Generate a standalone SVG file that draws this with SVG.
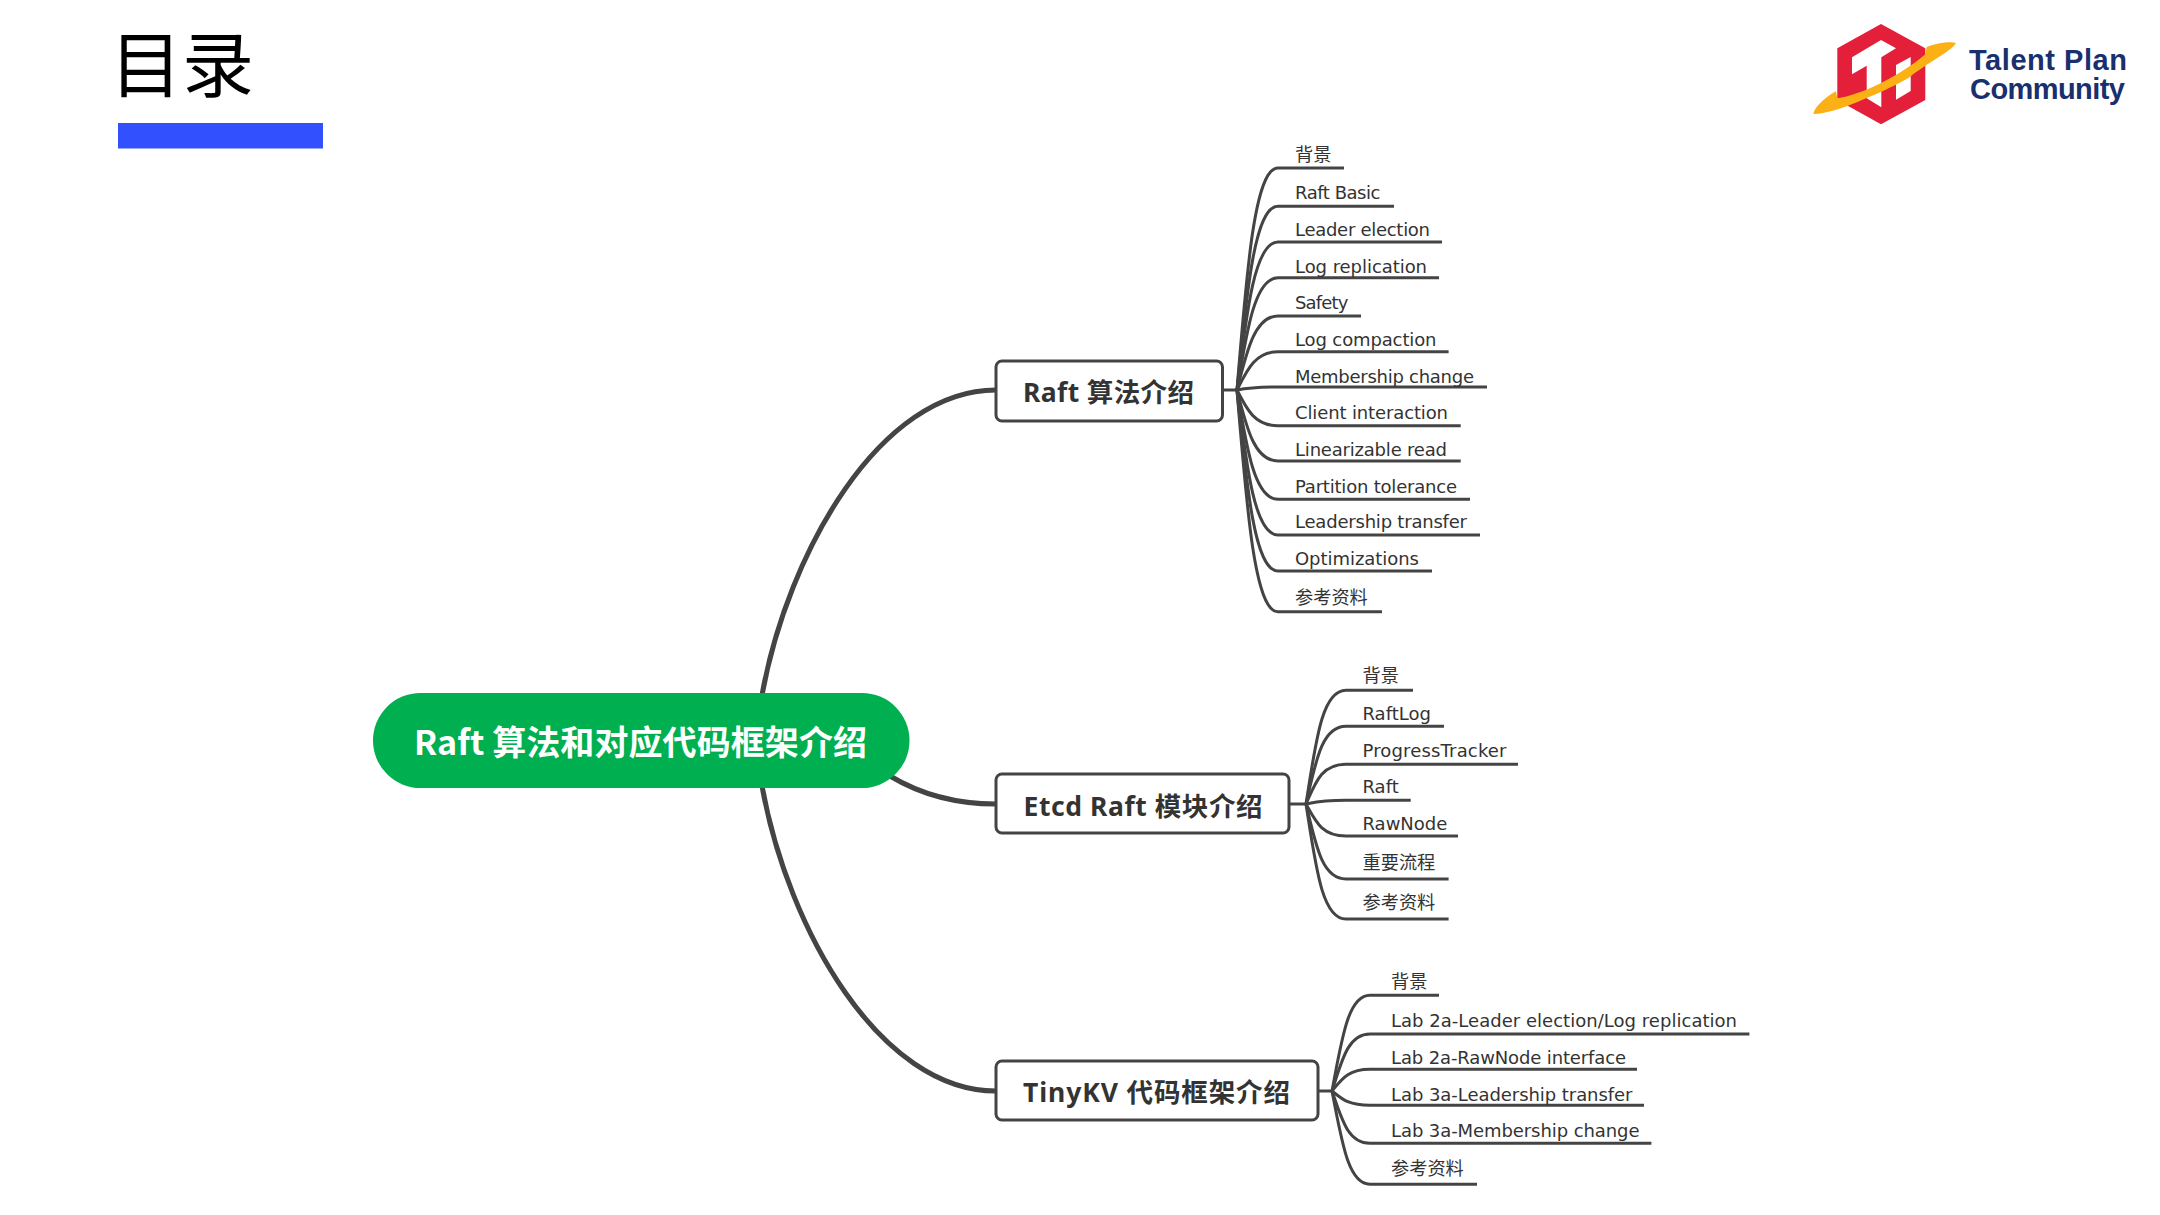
<svg xmlns="http://www.w3.org/2000/svg" width="2160" height="1215" viewBox="0 0 2160 1215">
<style>
.main{fill:none;stroke:#444;stroke-width:5;stroke-linecap:round}
.fan{fill:none;stroke:#444;stroke-width:3}
.leaf{font-family:"DejaVu Sans","Noto Sans CJK SC",sans-serif;font-size:18px;fill:#333}
.cjk{font-family:"Noto Sans CJK SC",sans-serif;font-size:18.200px;fill:#333}
.topic rect{fill:#fff;stroke:#444;stroke-width:3}
.topic text{font-family:"Noto Sans","Noto Sans CJK SC",sans-serif;font-weight:700;font-size:26.500px;fill:#333}
.brand{font-family:"Liberation Sans",sans-serif;font-weight:700;font-size:29px;fill:#1a2f6e}
</style>
<rect width="2160" height="1215" fill="#fff"/>
<g id="title">
<text x="110" y="91" style="font-family:'Noto Sans CJK SC',sans-serif;font-size:72px;fill:#000">目录</text>
<rect x="118" y="123" width="205" height="25.500" fill="#3350ff"/>
</g>
<g id="logo">
<path d="M1881 24L1925.300 48.300V100L1881 124.300L1837.300 100V48.300Z" fill="#e31f39"/>
<path d="M1852 57.300L1881 40L1896 48.300L1881.300 57.300V107.300L1866.700 98.300V65.700L1852 74.300Z" fill="#fff"/>
<path d="M1896 65L1910.700 57V91L1896 99.700Z" fill="#fff"/>
<path transform="translate(1810 15) scale(.3333)" d="M10 296C15 272 50 245 78 228L82 250C150 240 260 190 346 118L350 96C380 84 425 78 438 85C425 108 350 145 300 186C240 222 150 258 110 274C70 288 25 300 10 296Z" fill="#fbb116"/>
<text class="brand" x="1969" y="70" textLength="158">Talent Plan</text>
<text class="brand" x="1970" y="99" textLength="155">Community</text>
</g>
<g id="connectors">
<path class="main" d="M762 695C788 552 880 390 996 390"/>
<path class="main" d="M890 776C925 797 960 804 996 804"/>
<path class="main" d="M762 786C788 930 880 1091 996 1091"/>
<g class="fan">
<path d="M1223 390H1237"/>
<path d="M1237 390C1247 266 1255 168 1278 168H1344"/>
<path d="M1237 390C1247 288 1255 206.300 1278 206.300H1394"/>
<path d="M1237 390C1247 308 1255 242 1278 242H1442"/>
<path d="M1237 390C1247 329 1255 277.700 1278 277.700H1439"/>
<path d="M1237 390C1247 350 1255 316 1278 316H1361"/>
<path d="M1237 390C1247 370 1255 351.700 1278 351.700H1448.600"/>
<path d="M1237 390C1247 388 1255 387 1278 387H1487"/>
<path d="M1237 390C1247 410 1255 425.700 1278 425.700H1460.700"/>
<path d="M1237 390C1247 430 1255 461 1278 461H1460.700"/>
<path d="M1237 390C1247 451 1255 499.300 1278 499.300H1470"/>
<path d="M1237 390C1247 471 1255 535 1278 535H1480"/>
<path d="M1237 390C1247 491 1255 571 1278 571H1432"/>
<path d="M1237 390C1247 513 1255 611.700 1278 611.700H1382"/>
<path d="M1289 804H1306"/>
<path d="M1306 804C1316 740 1322 690.300 1346 690.300H1413"/>
<path d="M1306 804C1316 760 1322 726.300 1346 726.300H1444"/>
<path d="M1306 804C1316 781 1322 764.300 1346 764.300H1518"/>
<path d="M1306 804C1316 802 1322 800.300 1346 800.300H1410.700"/>
<path d="M1306 804C1316 822 1322 836 1346 836H1458"/>
<path d="M1306 804C1316 846 1322 879 1346 879H1448.600"/>
<path d="M1306 804C1316 868 1322 919 1346 919H1448.600"/>
<path d="M1318 1091H1332"/>
<path d="M1332 1091C1342 1038 1348 995.300 1370 995.300H1439"/>
<path d="M1332 1091C1342 1060 1348 1034 1370 1034H1749.400"/>
<path d="M1332 1091C1342 1079 1348 1069.300 1370 1069.300H1637"/>
<path d="M1332 1091C1342 1099 1348 1105.300 1370 1105.300H1644"/>
<path d="M1332 1091C1342 1120 1348 1143.300 1370 1143.300H1651.400"/>
<path d="M1332 1091C1342 1142 1348 1184.300 1370 1184.300H1477"/>
</g>
</g>
<g id="center">
<rect x="373" y="693" width="536.500" height="95" rx="47.500" fill="#00b050"/>
<text x="414" y="755" textLength="453" style="font-family:'Noto Sans CJK SC',sans-serif;font-weight:700;font-size:34px;fill:#fff">Raft 算法和对应代码框架介绍</text>
</g>
<g id="topic-raft" class="topic"><rect x="996" y="361" width="226.500" height="60" rx="6"/><text x="1023" y="402" textLength="171">Raft 算法介绍</text></g>
<g id="topic-etcd" class="topic"><rect x="996" y="774" width="293" height="59" rx="6"/><text x="1023.500" y="816" textLength="239">Etcd Raft 模块介绍</text></g>
<g id="topic-tinykv" class="topic"><rect x="996" y="1061" width="322" height="59" rx="6"/><text x="1023" y="1101.500" textLength="267">TinyKV 代码框架介绍</text></g>
<g id="raft-leaves">
<g id="r1"><text class="cjk" x="1295" y="161">背景</text></g>
<g id="r2"><text class="leaf" x="1295" y="199.300" textLength="85.500">Raft Basic</text></g>
<g id="r3"><text class="leaf" x="1295" y="236" textLength="135">Leader election</text></g>
<g id="r4"><text class="leaf" x="1295" y="273.300" textLength="132">Log replication</text></g>
<g id="r5"><text class="leaf" x="1295" y="309.300" textLength="53.500">Safety</text></g>
<g id="r6"><text class="leaf" x="1295" y="346" textLength="141.500">Log compaction</text></g>
<g id="r7"><text class="leaf" x="1295" y="383.300" textLength="179">Membership change</text></g>
<g id="r8"><text class="leaf" x="1295" y="419" textLength="153">Client interaction</text></g>
<g id="r9"><text class="leaf" x="1295" y="455.700" textLength="152">Linearizable read</text></g>
<g id="r10"><text class="leaf" x="1295" y="492.800" textLength="162">Partition tolerance</text></g>
<g id="r11"><text class="leaf" x="1295" y="528.300" textLength="172">Leadership transfer</text></g>
<g id="r12"><text class="leaf" x="1295" y="565" textLength="124">Optimizations</text></g>
<g id="r13"><text class="cjk" x="1295" y="603.500">参考资料</text></g>
</g>
<g id="etcd-leaves">
<g id="e1"><text class="cjk" x="1362.500" y="681.500">背景</text></g>
<g id="e2"><text class="leaf" x="1362.500" y="720">RaftLog</text></g>
<g id="e3"><text class="leaf" x="1362.500" y="757" textLength="144">ProgressTracker</text></g>
<g id="e4"><text class="leaf" x="1362.500" y="793">Raft</text></g>
<g id="e5"><text class="leaf" x="1362.500" y="830">RawNode</text></g>
<g id="e6"><text class="cjk" x="1362.500" y="868.500">重要流程</text></g>
<g id="e7"><text class="cjk" x="1362.500" y="908.500">参考资料</text></g>
</g>
<g id="tinykv-leaves">
<g id="t1"><text class="cjk" x="1391" y="988">背景</text></g>
<g id="t2"><text class="leaf" x="1391" y="1027" textLength="346">Lab 2a-Leader election/Log replication</text></g>
<g id="t3"><text class="leaf" x="1391" y="1064" textLength="235">Lab 2a-RawNode interface</text></g>
<g id="t4"><text class="leaf" x="1391" y="1100.500" textLength="241.500">Lab 3a-Leadership transfer</text></g>
<g id="t5"><text class="leaf" x="1391" y="1136.500" textLength="248.500">Lab 3a-Membership change</text></g>
<g id="t6"><text class="cjk" x="1391" y="1174.500">参考资料</text></g>
</g>
</svg>
